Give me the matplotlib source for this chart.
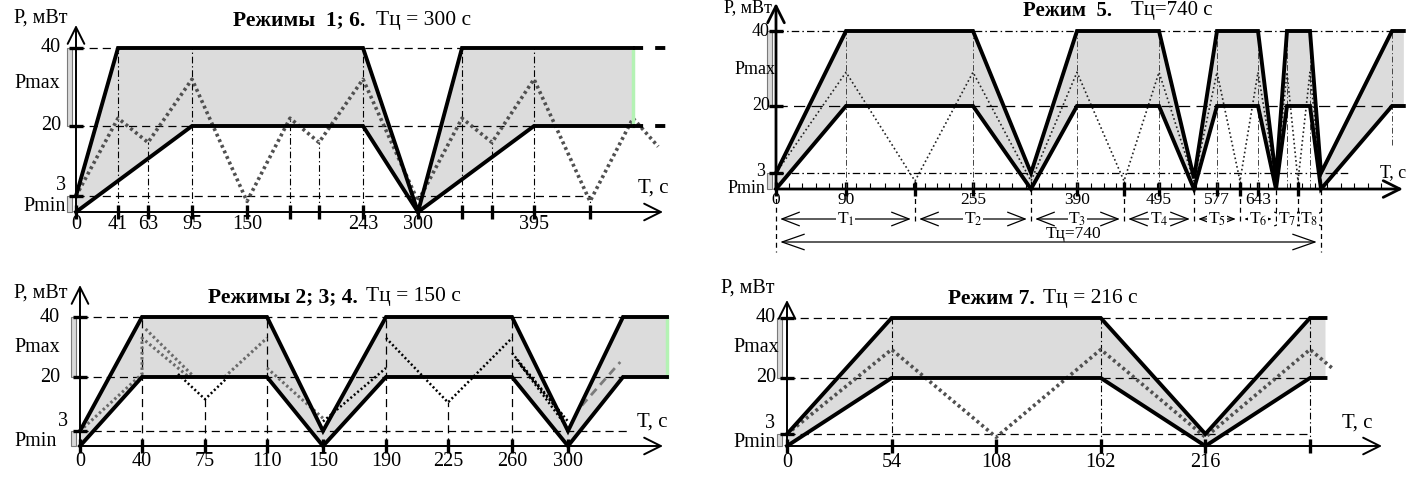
import numpy as np
import matplotlib
matplotlib.use('Agg')
import matplotlib.pyplot as plt
from matplotlib.patches import Rectangle
from matplotlib.transforms import offset_copy

plt.rcParams['font.family'] = ['Liberation Serif', 'DejaVu Serif']
plt.rcParams['mathtext.fontset'] = 'stix'

W, H = 1414, 479
LEVELS = [0, 3, 20, 40]          # Pmin, 3, 20, 40 мВт

# ===================== данные =====================
# Режимы 1; 6 (Тц = 300 с)
R16_TICKS = [0, 41, 63, 95, 150, 191, 213, 243, 300, 341, 363, 395, 450]
R16_LABELS = ['0', '41', '63', '95', '150', '', '', '243', '300', '', '', '395', '']
R16_UP_T = [0, 41, 243, 300, 341, 491]
R16_UP_P = [3, 40, 40, 0, 40, 40]
R16_LO_T = [0, 95, 243, 300, 395, 491]
R16_LO_P = [0, 20, 20, 0, 20, 20]
R16_DOT_T = [0, 41, 63, 95, 150, 191, 213, 243, 300, 341, 363, 395, 450, 491, 515]
R16_DOT_P = [3, 22, 16, 32, 2, 22, 16, 32, 2, 22, 16, 32, 2, 22, 15]
R16_GUIDE_T = [41, 63, 95, 150, 191, 213, 243, 341, 363, 395, 450]
R16_GUIDE_P = [40, 16, 40, 2, 22, 16, 40, 40, 16, 40, 2]
R16_END = [491, 527]
R16_LOW_END = 450

# Режимы 2; 3; 4 (Тц = 150 с)
R234_TICKS = [0, 40, 75, 110, 150, 190, 225, 260, 300]
R234_LABELS = ['0', '40', '75', '110', '150', '190', '225', '260', '300']
R234_UP_T = [0, 40, 110, 150, 190, 260, 300, 340, 372]
R234_UP_P = [3, 40, 40, 3, 40, 40, 3, 40, 40]
R234_LO_T = [0, 40, 110, 150, 190, 260, 300, 340, 372]
R234_LO_P = [0, 20, 20, 0, 20, 20, 0, 20, 20]
R234_GRAY_T = [0, 40, 40, 66, np.nan, 42, 69, np.nan, 86, 110, np.nan, 110, 150]
R234_GRAY_P = [3, 21, 33, 20, np.nan, 36, 20, np.nan, 20, 33, np.nan, 23, 7]
R234_BLACK_T = [60, 75, 88, np.nan, 150, 190, np.nan, 190, 225, 260, np.nan,
                260, 300, np.nan, 263, 298, np.nan, 266, 296]
R234_BLACK_P = [21, 13, 20, np.nan, 6, 23, np.nan, 33, 12, 33, np.nan,
                28, 6, np.nan, 26, 5, np.nan, 24, 8]
R234_DASH_T = [310, 338]
R234_DASH_P = [11, 25]
R234_GUIDE_T = [40, 75, 110, 190, 225, 260]
R234_GUIDE_P = [40, 13, 40, 40, 12, 40]
R234_END = 372
R234_LOW_END = 343

# Режим 5 (Тц = 740 с)
R5_TICKS = [0, 90, 172, 255, 390, 452, 495, 577, 610, 643, 710]
R5_LABELS = ['0', '90', '', '255', '390', '', '495', '577', '', '643', '']
R5_UP_T = [0, 90, 255, 330, 390, 495, 540, 577, 643, 680, 692, 722, 740, 830, 845]
R5_UP_P = [3, 40, 40, 3, 40, 40, 2, 40, 40, 2, 40, 40, 3, 40, 40]
R5_LO_T = [0, 90, 255, 330, 390, 495, 540, 577, 643, 680, 692, 722, 740, 830, 845]
R5_LO_P = [0, 20, 20, 0, 20, 20, 0, 20, 20, 0, 20, 20, 0, 20, 20]
R5_DOT_T = [0, 90, 172, 255, 330, 390, 452, 495, 540, 577, 610, 643, 680, 692, 710, 722, 740]
R5_DOT_P = [3, 29, 1.5, 29, 1.5, 29, 1.5, 29, 1.5, 29, 1.5, 29, 1.5, 29, 1.5, 29, 1.5]
R5_GUIDE_T = [90, 255, 390, 495, 577, 643, 692, 722]
R5_BOUNDS = [0, 172, 330, 452, 540, 610, 680, 710, 740]
R5_T_NAMES = ['T$_1$', 'T$_2$', 'T$_3$', 'T$_4$', 'T$_5$', 'T$_6$', 'T$_7$', 'T$_8$']
R5_TC = 740
R5_END = 845
R5_LOW_END = 777

# Режим 7 (Тц = 216 с)
R7_TICKS = [0, 54, 108, 162, 216, 270]
R7_LABELS = ['0', '54', '108', '162', '216', '']
R7_UP_T = [0, 54, 162, 216, 270, 278]
R7_UP_P = [3, 40, 40, 3, 40, 40]
R7_LO_T = [0, 54, 162, 216, 270, 278]
R7_LO_P = [0, 20, 20, 0, 20, 20]
R7_DOT_T = [0, 54, 108, 162, 216, 270, 282]
R7_DOT_P = [3, 29.5, 2.2, 29.5, 2.2, 29.5, 23]
R7_GUIDE_T = [54, 162, 270]
R7_END = 278
R7_LOW_END = 270

# ===================== раскладка (пиксели картинки) =====================
LAY16 = dict(origin=(76, 212), tip=663, top=25,
             xk=[0, 41, 63, 95, 150, 191, 213, 243, 300, 341, 363, 395, 450, 491],
             xp=[76, 118, 148, 192, 247, 290, 319, 363, 418, 462, 492, 534, 590, 633],
             yh=[0, 16, 86, 164])
LAY234 = dict(origin=(80, 446), tip=663, top=285,
              xk=[0, 40, 75, 110, 150, 190, 225, 260, 300, 340],
              xp=[80, 142, 205, 267, 323, 386, 448, 512, 568, 623],
              yh=[0, 15, 69, 129])
LAY5 = dict(origin=(776, 189), tip=1403, top=3,
            xk=[0, 90, 172, 255, 330, 390, 452, 495, 540, 577, 610, 643, 680, 692, 710, 722, 740, 830],
            xp=[776, 846, 915, 973, 1031, 1077, 1124, 1159, 1194, 1217, 1240, 1258, 1276, 1287,
                1298, 1310, 1321, 1392],
            yh=[0, 16, 83, 158])
LAY7 = dict(origin=(787, 446), tip=1382, top=300,
            xk=[0, 270], xp=[787, 1310], yh=[0, 12, 68, 128])

DASH = (0, (6.5, 4))
DASHDOT = (0, (6, 2.5, 1.2, 2.5))
FILL = '#dcdcdc'
GREEN = '#b4f2b4'


def pw(vals, pos):
    """кусочно-линейная шкала с линейным продолжением за краями"""
    def make(a, b):
        a = np.asarray(a, float); b = np.asarray(b, float)
        s0 = (b[1] - b[0]) / (a[1] - a[0]); s1 = (b[-1] - b[-2]) / (a[-1] - a[-2])

        def f(x):
            x = np.asarray(x, float)
            y = np.interp(x, a, b)
            y = np.where(x < a[0], b[0] + (x - a[0]) * s0, y)
            return np.where(x > a[-1], b[-1] + (x - a[-1]) * s1, y)
        return f
    return make(vals, pos), make(pos, vals)


def setup(fig, lay, ticks, labels, lw_axis=1.4, tick_size=14.5, pad=-1):
    ox, oy = lay['origin']
    axw, axh = lay['tip'] - ox, oy - lay['top']
    ax = fig.add_axes([ox / W, 1 - oy / H, axw / W, axh / H])
    fx, ix = pw(lay['xk'], [p - ox for p in lay['xp']])
    fy, iy = pw(LEVELS, lay['yh'])
    ax.set_xscale('function', functions=(fx, ix))
    ax.set_yscale('function', functions=(fy, iy))
    ax.set_xlim(0, float(ix(axw)))
    ax.set_ylim(0, float(iy(axh)))
    for s in ax.spines.values():
        s.set_visible(False)
    ax.patch.set_alpha(0)
    arrow = dict(arrowstyle='->,head_length=0.6,head_width=0.3', lw=lw_axis, color='k',
                 mutation_scale=20, shrinkA=0, shrinkB=0)
    ax.annotate('', xy=(1, 0), xytext=(0, 0), xycoords='axes fraction', arrowprops=arrow)
    ax.annotate('', xy=(0, 1), xytext=(0, 0), xycoords='axes fraction', arrowprops=arrow)
    ax.set_xticks(ticks)
    ax.set_xticklabels(labels)
    ax.tick_params(axis='x', direction='inout', length=10, width=2.4, labelsize=tick_size, pad=pad)
    ax.set_yticks([3, 20, 40])
    ax.set_yticklabels([])
    ax.tick_params(axis='y', direction='inout', length=10, width=2.4)
    return ax, axw, axh, fy


def ylabels(ax, axw, axh, spec, fs=15):
    """spec: список (текст, y, dx, dy, ha); y=None -> верх оси"""
    for s, y, dx, dy, ha in spec:
        if y is None:
            tr = offset_copy(ax.transAxes, fig=ax.figure, x=dx, y=dy, units='dots')
            ax.text(0, 1, s, transform=tr, ha=ha, va='center', fontsize=fs)
        else:
            tr = offset_copy(ax.get_yaxis_transform(), fig=ax.figure, x=dx, y=dy, units='dots')
            ax.text(0, y, s, transform=tr, ha=ha, va='center', fontsize=fs)


def brackets(ax, axw, x0, w):
    tr = ax.get_yaxis_transform()
    ax.add_patch(Rectangle((x0 / axw, 20), w / axw, 20, transform=tr, fc='#d9d9d9',
                           ec='#7a7a7a', lw=0.8, clip_on=False))
    ax.add_patch(Rectangle((x0 / axw, 0), w / axw, 3, transform=tr, fc='#d9d9d9',
                           ec='#7a7a7a', lw=0.8, clip_on=False))


def band(ax, up_t, up_p, lo_t, lo_p, lw=2.8):
    ax.fill(np.r_[up_t, lo_t[::-1]], np.r_[up_p, lo_p[::-1]], color=FILL, lw=0, zorder=1,
            clip_on=False)
    ax.plot(up_t, up_p, color='k', lw=lw, zorder=4, clip_on=False, solid_joinstyle='miter')
    ax.plot(lo_t, lo_p, color='k', lw=lw, zorder=4, clip_on=False, solid_joinstyle='miter')


def title(fig, x, y, bold, rest, gap, fs=15.5):
    fig.text(x / W, 1 - y / H, bold, fontsize=fs, fontweight='bold', ha='left', va='center')
    fig.text((x + gap) / W, 1 - y / H, rest, fontsize=fs, ha='left', va='center')


def hline(ax, y, x1, ls=DASH, lw=0.9, color='k'):
    ax.plot([0, x1], [y, y], color=color, lw=lw, ls=ls, zorder=2, clip_on=False)


def vguides(ax, ts, ps, ls=DASHDOT, lw=0.8, color='k'):
    for t, p in zip(ts, ps):
        ax.plot([t, t], [0, p], color=color, lw=lw, ls=ls, zorder=2, clip_on=False)


fig = plt.figure(figsize=(W / 100, H / 100), dpi=100)

# ---------- Режимы 1; 6 ----------
ax, axw, axh, fy = setup(fig, LAY16, R16_TICKS, R16_LABELS, pad=-3)
band(ax, R16_UP_T, R16_UP_P, R16_LO_T, R16_LO_P)
for lev in (40, 20):
    hline(ax, lev, R16_END[0])
    ax.plot(R16_END, [lev, lev], color='k', lw=2.8, ls=(0, (2.6, 3.1)), zorder=4, clip_on=False)
hline(ax, 3, R16_LOW_END)
vguides(ax, R16_GUIDE_T, R16_GUIDE_P)
ax.plot(R16_DOT_T, R16_DOT_P, color='#505050', lw=2.6, ls=(0, (0.8, 0.9)), zorder=3, clip_on=False)
ax.plot([R16_END[0]] * 2, [20, 40], color=GREEN, lw=2.5, zorder=3, clip_on=False)
brackets(ax, axw, -9, 5)
ylabels(ax, axw, axh, [('40', 40, -15, 0, 'right'), ('Pmax', 31, -39, 0, 'center'),
                       ('20', 20, -15, 0, 'right'), ('3', 3, -10, 10, 'right'),
                       ('Pmin', 1.3, -10, -1, 'right'), ('Р, мВт', None, -8, 7, 'right')], fs=14.5)
title(fig, 233, 20, 'Режимы  1; 6.', 'Тц = 300 с', 143)
fig.text(638 / W, 1 - 188 / H, 'Т, с', fontsize=15, ha='left', va='center')

# ---------- Режимы 2; 3; 4 ----------
ax, axw, axh, fy = setup(fig, LAY234, R234_TICKS, R234_LABELS)
band(ax, R234_UP_T, R234_UP_P, R234_LO_T, R234_LO_P)
hline(ax, 40, R234_END)
hline(ax, 20, R234_END)
hline(ax, 3, R234_LOW_END)
vguides(ax, R234_GUIDE_T, R234_GUIDE_P, ls=DASH, lw=0.9)
ax.plot(R234_GRAY_T, R234_GRAY_P, color='#6a6a6a', lw=2.2, ls=(0, (0.8, 0.9)), zorder=3, clip_on=False)
ax.plot(R234_BLACK_T, R234_BLACK_P, color='k', lw=1.8, ls=(0, (0.8, 1.0)), zorder=3, clip_on=False)
ax.plot(R234_DASH_T, R234_DASH_P, color='#7a7a7a', lw=2.0, ls=(0, (3, 2)), zorder=3)
ax.plot([R234_END] * 2, [20, 40], color=GREEN, lw=2.5, zorder=3, clip_on=False)
brackets(ax, axw, -9, 5)
ylabels(ax, axw, axh, [('40', 40, -20, 0, 'right'), ('Pmax', 30, -43, 0, 'center'),
                       ('20', 20, -20, 0, 'right'), ('3', 3, -12, 9, 'right'),
                       ('Pmin', 1.2, -23, -1, 'right'), ('Р, мВт', None, -12, -8, 'right')],
        fs=14.5)
title(fig, 208, 297, 'Режимы 2; 3; 4.', 'Тц = 150 с', 158)
fig.text(637 / W, 1 - 422 / H, 'Т, с', fontsize=15, ha='left', va='center')

# ---------- Режим 5 ----------
ax, axw, axh, fy = setup(fig, LAY5, R5_TICKS, R5_LABELS, lw_axis=2.0, tick_size=12.5, pad=-3)
ax.set_xticks(np.arange(0, 831, 17), minor=True)
ax.tick_params(axis='x', which='minor', direction='in', length=4, width=0.8)
band(ax, R5_UP_T, R5_UP_P, R5_LO_T, R5_LO_P)
hline(ax, 40, R5_END, ls=DASHDOT)
hline(ax, 20, R5_END, ls=(0, (9, 5)))
hline(ax, 3, R5_LOW_END, ls=DASHDOT)
vguides(ax, R5_GUIDE_T, [40] * len(R5_GUIDE_T), color='#444444', lw=0.7)
ax.plot([R5_UP_T[-2]] * 2, [10, 40], color='#444444', lw=0.7, ls=DASHDOT, zorder=2)
ax.plot(R5_DOT_T, R5_DOT_P, color='#222222', lw=1.2, ls=(0, (1, 1.6)), zorder=3)
xt = ax.get_xaxis_transform()
xtr = ax.xaxis.get_transform()
for b in R5_BOUNDS:
    low = -63 if b in (0, R5_TC) else -35
    ax.plot([b, b], [fy(1.5) / axh, low / axh], transform=xt, color='k', lw=0.9,
            ls=(0, (4, 3)), clip_on=False, zorder=2)
row = offset_copy(xt, fig=fig, y=-30, units='dots')
for i in range(len(R5_BOUNDS) - 1):
    a, b = R5_BOUNDS[i], R5_BOUNDS[i + 1]
    ax.annotate('', xy=(b, 0), xytext=(a, 0), xycoords=row, textcoords=row,
                arrowprops=dict(arrowstyle='<->,head_length=0.9,head_width=0.35', lw=0.9,
                                color='k', mutation_scale=14, shrinkA=3, shrinkB=3))
    mid = float(xtr.inverted().transform([(xtr.transform([a])[0] + xtr.transform([b])[0]) / 2])[0])
    ax.text(mid, 0, R5_T_NAMES[i], transform=row, ha='center', va='center', fontsize=12.5,
            bbox=dict(fc='white', ec='none', pad=0.5))
row2 = offset_copy(xt, fig=fig, y=-53, units='dots')
ax.annotate('', xy=(R5_TC, 0), xytext=(0, 0), xycoords=row2, textcoords=row2,
            arrowprops=dict(arrowstyle='<->,head_length=1.0,head_width=0.35', lw=0.9,
                            color='k', mutation_scale=16, shrinkA=3, shrinkB=3))
ax.text(385, 0, 'Тц=740', transform=offset_copy(xt, fig=fig, y=-45, units='dots'),
        ha='center', va='center', fontsize=12.5)
brackets(ax, axw, -9, 5)
ylabels(ax, axw, axh, [('40', 40, -6, 0, 'right'), ('Pmax', 29.6, -21, 0, 'center'),
                       ('20', 20, -6, 0, 'right'), ('3', 3, -11, 1, 'right'),
                       ('Pmin', 0.2, -11, -1, 'right'), ('Р, мВт', None, -4, -5, 'right')], fs=13)
title(fig, 1023, 11, 'Режим  5.', 'Тц=740 с', 108, fs=15)
fig.text(1380 / W, 1 - 173 / H, 'Т, с', fontsize=13, ha='left', va='center')

# ---------- Режим 7 ----------
ax, axw, axh, fy = setup(fig, LAY7, R7_TICKS, R7_LABELS, pad=0)
band(ax, R7_UP_T, R7_UP_P, R7_LO_T, R7_LO_P)
hline(ax, 40, R7_LOW_END)
hline(ax, 20, R7_LOW_END)
hline(ax, 3, R7_LOW_END)
vguides(ax, R7_GUIDE_T, [40] * len(R7_GUIDE_T))
ax.plot(R7_DOT_T, R7_DOT_P, color='#505050', lw=2.6, ls=(0, (0.8, 0.9)), zorder=3, clip_on=False)
brackets(ax, axw, -10, 5)
ylabels(ax, axw, axh, [('40', 40, -11, 0, 'right'), ('Pmax', 30.3, -31, 0, 'center'),
                       ('20', 20, -11, 0, 'right'), ('3', 3, -12, 11, 'right'),
                       ('Pmin', 1.2, -11, -1, 'right'), ('Р, мВт', None, -12, 12, 'right')],
        fs=14.5)
title(fig, 948, 299, 'Режим 7.', 'Тц = 216 с', 95)
fig.text(1342 / W, 1 - 423 / H, 'Т, с', fontsize=15, ha='left', va='center')

fig.savefig('out.png', dpi=100)
